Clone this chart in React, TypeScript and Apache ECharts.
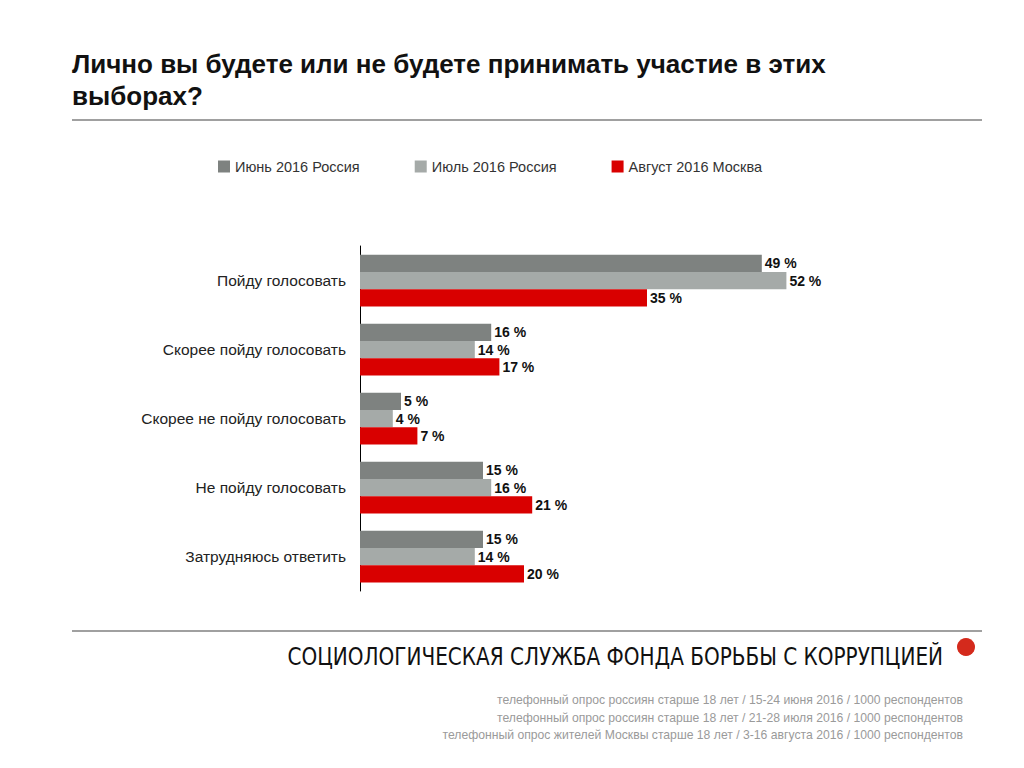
import React, { useEffect, useRef } from "react";
import * as echarts from "echarts";

const categories = [
  "Пойду голосовать",
  "Скорее пойду голосовать",
  "Скорее не пойду голосовать",
  "Не пойду голосовать",
  "Затрудняюсь ответить",
];
const seriesNames = ["Июнь 2016 Россия", "Июль 2016 Россия", "Август 2016 Москва"];
const june2016 = [49, 16, 5, 15, 15];
const july2016 = [52, 14, 4, 16, 14];
const aug2016 = [35, 17, 7, 21, 20];
const colors = ["#7e8280", "#a5aaa8", "#d90000"];

const titleLines = ["Лично вы будете или не будете принимать участие в этих", "выборах?"];
const footerTitle = "СОЦИОЛОГИЧЕСКАЯ СЛУЖБА ФОНДА БОРЬБЫ С КОРРУПЦИЕЙ";
const footnotes = [
  "телефонный опрос россиян старше 18 лет / 15-24 июня 2016 / 1000 респондентов",
  "телефонный опрос россиян старше 18 лет / 21-28 июля 2016 / 1000 респондентов",
  "телефонный опрос жителей Москвы старше 18 лет / 3-16 августа 2016 / 1000 респондентов",
];

export default function App() {
  const ref = useRef<HTMLDivElement>(null);
  useEffect(() => {
    if (!ref.current) return;
    const chart = echarts.init(ref.current, null, { renderer: "svg" });
    const data = [june2016, july2016, aug2016];
    chart.setOption({
      animation: false,
      backgroundColor: "#ffffff",
      textStyle: { fontFamily: "Liberation Sans, Arial, sans-serif" },
      legend: {
        left: 213,
        top: 154,
        icon: "rect",
        itemWidth: 12,
        itemHeight: 12,
        itemGap: 55,
        textStyle: { fontSize: 14.5, color: "#333" },
        data: seriesNames,
      },
      grid: { left: 360, top: 246, width: 492, height: 345, containLabel: false },
      xAxis: {
        type: "value",
        min: 0,
        max: 60,
        show: false,
        splitLine: { show: false },
      },
      yAxis: {
        type: "category",
        inverse: true,
        data: categories,
        axisLine: { show: true, lineStyle: { color: "#000", width: 1 } },
        axisTick: { show: false },
        axisLabel: { fontSize: 15.5, color: "#222", margin: 14 },
      },
      series: seriesNames.map((name, i) => ({
        name,
        type: "bar",
        data: data[i],
        barGap: "0%",
        barCategoryGap: "25%",
        itemStyle: { color: colors[i] },
        label: {
          show: true,
          position: "right",
          distance: 3,
          formatter: "{c} %",
          fontSize: 14,
          fontWeight: "bold",
          color: "#111",
        },
      })),
      graphic: [
        ...titleLines.map((t, i) => ({
          type: "text",
          left: 72,
          top: 51 + i * 32,
          style: { text: t, fontSize: 26, fontWeight: "bold", fill: "#111", fontFamily: "Liberation Sans, Arial, sans-serif" },
        })),
        { type: "line", shape: { x1: 72, y1: 120, x2: 982, y2: 120 }, style: { stroke: "#a0a0a0", lineWidth: 2 } },
        { type: "line", shape: { x1: 72, y1: 631, x2: 982, y2: 631 }, style: { stroke: "#a0a0a0", lineWidth: 2 } },
        {
          type: "text",
          x: 943,
          y: 657,
          scaleX: 0.89,
          style: {
            text: footerTitle,
            x: 0,
            y: 0,
            fontSize: 25,
            fill: "#111",
            fontFamily: "Liberation Sans Narrow, DejaVu Sans Condensed, sans-serif",
            textAlign: "right",
            textVerticalAlign: "middle",
          },
        },
        { type: "circle", shape: { cx: 966, cy: 647, r: 9 }, style: { fill: "#d42a1c" } },
        ...footnotes.map((t, i) => ({
          type: "text",
          x: 963,
          y: 700 + i * 17.5,
          style: {
            text: t,
            fontSize: 12.2,
            fill: "#9a9a9a",
            fontFamily: "Liberation Sans Narrow, sans-serif",
            textAlign: "right",
            textVerticalAlign: "middle",
          },
        })),
      ],
    });
    return () => chart.dispose();
  }, []);
  return <div ref={ref} style={{ width: 1024, height: 768, position: "absolute", left: 0, top: 0 }} />;
}
